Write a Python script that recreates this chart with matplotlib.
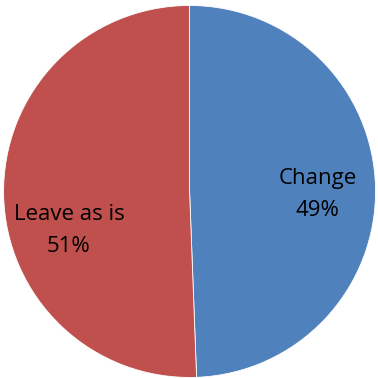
import matplotlib
matplotlib.use("Agg")
import matplotlib.pyplot as plt

labels = ["Change", "Leave as is"]
values = [49.4, 50.6]
colors = ["#4F81BD", "#C0504D"]

plt.rcParams['font.family'] = ['Open Sans', 'DejaVu Sans']

fig = plt.figure(figsize=(3.78, 3.78), dpi=100)
ax = fig.add_axes([0, 0, 1, 1])

wedges, _ = ax.pie(values, colors=colors, startangle=90, counterclock=False,
                   radius=0.984, center=(0.003, -0.013),
                   wedgeprops=dict(edgecolor="white", linewidth=0.6))

# label placement roughly as in the original
label_pos = [(0.68, -0.03), (-0.635, -0.22)]
for lab, v, (x, y) in zip(labels, values, label_pos):
    ax.text(x, y, f"{lab}\n{v:.0f}%", ha="center", va="center",
            fontsize=16, color="black", linespacing=1.7)

ax.set_xlim(-1.0, 1.0)
ax.set_ylim(-1.0, 1.0)
ax.set_aspect("equal")
ax.axis("off")

fig.savefig("out.png", dpi=100)
